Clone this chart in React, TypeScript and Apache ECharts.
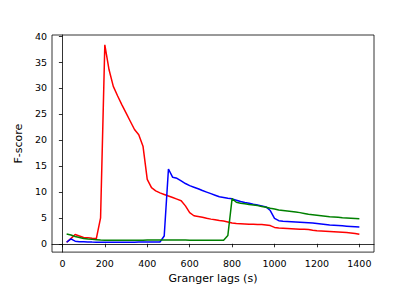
import React, { useEffect, useRef } from "react";
import * as echarts from "echarts";

const lags: number[] = [];
for (let v = 20; v <= 1400; v += 20) lags.push(v);

const redValues = [
  0.3, 1.0, 1.8, 1.5, 1.2, 1.15, 1.05, 1.0, 5.0, 38.3,
  33.5, 30.3, 28.5, 26.8, 25.2, 23.6, 22.0, 21.0, 18.8, 12.4,
  10.8, 10.2, 9.8, 9.5, 9.2, 8.9, 8.6, 8.3, 7.3, 6.0,
  5.4, 5.25, 5.1, 4.9, 4.75, 4.65, 4.5, 4.4, 4.2, 4.0,
  3.9, 3.85, 3.8, 3.75, 3.75, 3.7, 3.7, 3.6, 3.5, 3.15,
  3.05, 3.0, 2.95, 2.9, 2.85, 2.8, 2.8, 2.75, 2.6, 2.5,
  2.45, 2.4, 2.35, 2.3, 2.25, 2.2, 2.15, 2.1, 2.0, 1.85,
];

const blueValues = [
  0.3, 0.95, 0.5, 0.4, 0.38, 0.35, 0.33, 0.32, 0.3, 0.3,
  0.3, 0.3, 0.3, 0.3, 0.3, 0.3, 0.32, 0.33, 0.33, 0.34,
  0.34, 0.35, 0.35, 1.5, 14.4, 12.8, 12.6, 12.1, 11.6, 11.2,
  10.9, 10.6, 10.25, 9.95, 9.65, 9.35, 9.05, 8.9, 8.75, 8.65,
  8.4, 8.15, 7.95, 7.8, 7.6, 7.45, 7.3, 7.1, 6.4, 4.9,
  4.45, 4.35, 4.3, 4.25, 4.2, 4.15, 4.1, 4.05, 4.0, 3.9,
  3.8, 3.7, 3.6, 3.55, 3.5, 3.45, 3.4, 3.35, 3.3, 3.25,
];

const greenValues = [
  1.9, 1.7, 1.4, 1.2, 1.0, 0.9, 0.85, 0.8, 0.72, 0.68,
  0.66, 0.66, 0.66, 0.67, 0.68, 0.68, 0.7, 0.7, 0.7, 0.72,
  0.72, 0.72, 0.72, 0.72, 0.72, 0.72, 0.72, 0.72, 0.72, 0.7,
  0.7, 0.7, 0.7, 0.7, 0.7, 0.7, 0.7, 0.7, 1.6, 8.7,
  8.0, 7.8, 7.7, 7.55, 7.45, 7.35, 7.2, 7.05, 6.85, 6.7,
  6.5, 6.4, 6.3, 6.2, 6.1, 6.0, 5.85, 5.7, 5.6, 5.5,
  5.4, 5.3, 5.2, 5.15, 5.1, 5.0, 4.95, 4.9, 4.85, 4.8,
];

const xTicks = [0, 200, 400, 600, 800, 1000, 1200, 1400];
const yTicks = [0, 5, 10, 15, 20, 25, 30, 35, 40];

const font = "DejaVu Sans";

export default function App() {
  const ref = useRef<HTMLDivElement>(null);
  useEffect(() => {
    if (!ref.current) return;
    const chart = echarts.init(ref.current, null, { renderer: "svg" });
    const mk = (vals: number[], color: string) => ({
      type: "line",
      data: lags.map((x, i) => [x, vals[i]]),
      showSymbol: false,
      symbol: "none",
      lineStyle: { color, width: 1.5 },
      itemStyle: { color },
      z: 3,
    });
    chart.setOption({
      animation: false,
      backgroundColor: "#fff",
      grid: {
        left: 52,
        right: 42,
        top: 35,
        bottom: 36,
        show: true,
        borderColor: "#000",
        borderWidth: 0.8,
        backgroundColor: "transparent",
      },
      xAxis: {
        type: "value",
        min: -49,
        max: 1469,
        name: "Granger lags (s)",
        nameLocation: "middle",
        nameGap: 17,
        nameTextStyle: { fontFamily: font, fontSize: 11, color: "#000" },
        axisLine: { show: true, lineStyle: { color: "#000", width: 0.8 } },
        axisTick: { show: true, length: 3.5, lineStyle: { color: "#000", width: 0.8 }, customValues: xTicks },
        axisLabel: {
          fontFamily: font, fontSize: 9.5, color: "#000", margin: 6, customValues: xTicks,
          formatter: (v: number) => String(v),
        },
        splitLine: { show: false },
      },
      yAxis: {
        type: "value",
        min: -1.6,
        max: 40.2,
        name: "F-score",
        nameLocation: "middle",
        nameGap: 23,
        nameTextStyle: { fontFamily: font, fontSize: 11, color: "#000" },
        axisLine: { show: true, lineStyle: { color: "#000", width: 0.8 } },
        axisTick: { show: true, length: 3.5, lineStyle: { color: "#000", width: 0.8 }, customValues: yTicks },
        axisLabel: {
          fontFamily: font, fontSize: 9.5, color: "#000", margin: 5, customValues: yTicks,
          formatter: (v: number) => String(v),
        },
        splitLine: { show: false },
      },
      series: [
        mk(redValues, "#ff0000"),
        mk(blueValues, "#0000ff"),
        mk(greenValues, "#008000"),
      ],
    });
    return () => chart.dispose();
  }, []);
  return <div ref={ref} style={{ width: 416, height: 289, position: "absolute", left: 0, top: 0 }} />;
}
